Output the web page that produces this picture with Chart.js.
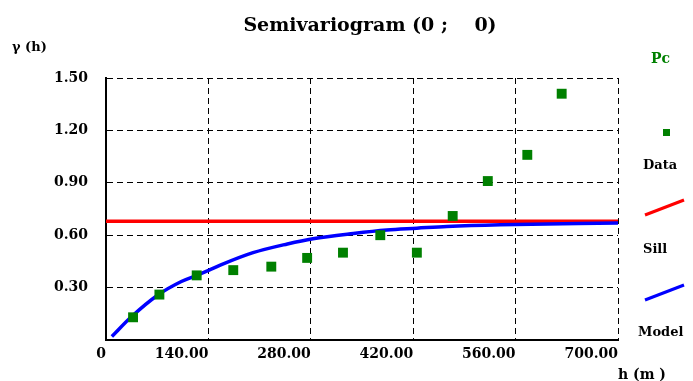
<!DOCTYPE html>
<html>
<head>
<meta charset="utf-8">
<script src="https://cdn.jsdelivr.net/npm/chart.js@4/dist/chart.umd.min.js"></script>
<style>
    html, body { margin: 0; padding: 0; background: #fff; }
    #wrap { width: 693px; height: 381px; }
</style>
</head>
<body>
<div id="wrap"><canvas id="vario" width="693" height="381"></canvas></div>
<script>
// experimental semivariogram points
const lagValues = [37, 73, 124, 174, 226, 275, 324, 375, 425, 474, 522, 576, 623];
const gammaValues = [0.13, 0.26, 0.37, 0.40, 0.42, 0.47, 0.50, 0.60, 0.50, 0.71, 0.91, 1.06, 1.41];

// fitted model
const modelLags = [8, 34, 70, 103, 124, 141, 157, 201, 248, 283, 338, 384, 425, 466, 539, 700];
const modelValues = [0.02, 0.13, 0.255, 0.335, 0.37, 0.40, 0.43, 0.50, 0.55, 0.58, 0.61, 0.63, 0.64, 0.65, 0.66, 0.67];

const sillLags = [0, 700];
const sillValue = 0.68;

const xTicks = [0, 140, 280, 420, 560, 700];
const yTicks = [0.3, 0.6, 0.9, 1.2, 1.5];

const titleText = "Semivariogram (0 ;    0)";
const yAxisText = "\u03b3 (h)";
const xAxisText = "h (m )";
const legendHead = "Pc";

const FONT = "'DejaVu Serif', serif";

function toPoints(xs, ys) {
    return xs.map((x, i) => ({ x: x, y: Array.isArray(ys) ? ys[i] : ys }));
}

const textPlugin = {
    id: "textPlugin",
    afterDraw(chart) {
        const ctx = chart.ctx;
        const ds = chart.data.datasets;
        ctx.save();
        ctx.fillStyle = "#000";
        ctx.textBaseline = "alphabetic";

        ctx.font = "bold 19px " + FONT;
        ctx.textAlign = "center";
        ctx.fillText(titleText, 370, 31);

        ctx.font = "bold 13px " + FONT;
        ctx.textAlign = "left";
        ctx.fillText(yAxisText, 12, 51);
        ctx.font = "bold 14px " + FONT;
        ctx.fillText(xAxisText, 618, 379);

        // legend
        ctx.fillStyle = "#008000";
        ctx.font = "bold 14px " + FONT;
        ctx.fillText(legendHead, 651, 63);

        const data = ds[0];
        ctx.fillStyle = data.backgroundColor;
        ctx.fillRect(663, 129, 7, 7);

        ctx.fillStyle = "#000";
        ctx.font = "bold 13px " + FONT;
        ctx.fillText(data.label, 643, 169);

        const sill = ds[1];
        ctx.strokeStyle = sill.borderColor;
        ctx.lineWidth = 3;
        ctx.beginPath();
        ctx.moveTo(645, 215);
        ctx.lineTo(684, 200);
        ctx.stroke();
        ctx.fillText(sill.label, 643, 253);

        const model = ds[2];
        ctx.strokeStyle = model.borderColor;
        ctx.beginPath();
        ctx.moveTo(645, 300);
        ctx.lineTo(684, 285);
        ctx.stroke();
        ctx.fillText(model.label, 638, 336);

        ctx.restore();
    }
};

new Chart(document.getElementById("vario"), {
    type: "scatter",
    data: {
        datasets: [
            {
                label: "Data",
                data: toPoints(lagValues, gammaValues),
                backgroundColor: "#008000",
                borderColor: "#008000",
                pointStyle: "rect",
                pointRadius: 7,
                pointBorderWidth: 0,
                order: 0
            },
            {
                label: "Sill",
                type: "line",
                data: toPoints(sillLags, sillValue),
                borderColor: "#ff0000",
                borderWidth: 3.5,
                pointRadius: 0,
                fill: false,
                order: 2
            },
            {
                label: "Model",
                type: "line",
                data: toPoints(modelLags, modelValues),
                borderColor: "#0000ff",
                borderWidth: 3.5,
                pointRadius: 0,
                cubicInterpolationMode: "monotone",
                fill: false,
                order: 1
            }
        ]
    },
    options: {
        responsive: false,
        animation: false,
        layout: { padding: { top: 78, right: 75, left: 0, bottom: 0 } },
        plugins: {
            legend: { display: false },
            title: { display: false },
            tooltip: { enabled: false }
        },
        scales: {
            x: {
                type: "linear",
                min: 0,
                max: 700,
                afterBuildTicks: axis => { axis.ticks = xTicks.map(v => ({ value: v })); },
                afterFit: axis => { axis.height = 41; },
                ticks: {
                    align: "end",
                    padding: 6,
                    color: "#000",
                    font: { family: FONT, weight: "bold", size: 14 },
                    callback: v => v === 0 ? "0" : Number(v).toFixed(2)
                },
                grid: { color: "#000", lineWidth: 1, drawTicks: false },
                border: { color: "#000", width: 2, dash: [6, 4] }
            },
            y: {
                type: "linear",
                min: 0,
                max: 1.5,
                afterBuildTicks: axis => { axis.ticks = [0].concat(yTicks).map(v => ({ value: v })); },
                afterFit: axis => { axis.width = 106; },
                ticks: {
                    padding: 18,
                    color: "#000",
                    font: { family: FONT, weight: "bold", size: 14 },
                    callback: v => v === 0 ? "" : Number(v).toFixed(2)
                },
                grid: { color: "#000", lineWidth: 1, drawTicks: false },
                border: { color: "#000", width: 2, dash: [6, 4] }
            }
        }
    },
    plugins: [textPlugin]
});
</script>
</body>
</html>
